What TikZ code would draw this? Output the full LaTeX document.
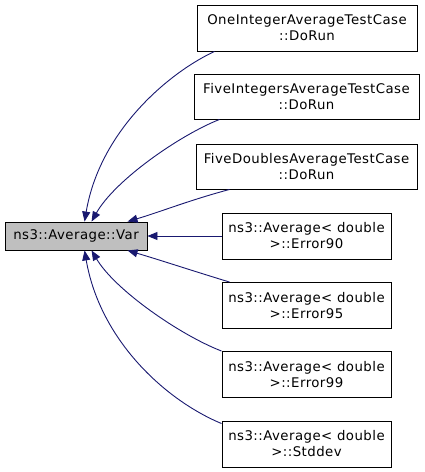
\documentclass[tikz,border=0pt]{standalone}
\usepackage{fontspec}
\setmainfont{DejaVu Sans}[LetterSpace=3.5]
\usetikzlibrary{arrows.meta}
\definecolor{edgeblue}{HTML}{191970}
\definecolor{boxgray}{HTML}{BFBFBF}
\begin{document}
\begin{tikzpicture}[x=1pt,y=-1pt,
  box/.style={draw=black, line width=0.9pt, fill=white, align=center, inner sep=0pt,
    font=\fontsize{13.3}{16}\selectfont},
  edge/.style={draw=edgeblue, line width=0.9pt, -{Triangle[length=10pt,width=8pt]}}]
\useasboundingbox (0,0) rectangle (424,472);
\node[box, fill=boxgray, minimum width=142pt, minimum height=28pt] (v) at (76,236) {ns3::Average::Var};
\node[box, minimum width=220pt, minimum height=46pt] (b1) at (307,28) {OneIntegerAverageTestCase\\::DoRun};
\node[box, minimum width=225pt, minimum height=45pt] (b2) at (306.5,96.5) {FiveIntegersAverageTestCase\\::DoRun};
\node[box, minimum width=221pt, minimum height=45pt] (b3) at (306.5,166.5) {FiveDoublesAverageTestCase\\::DoRun};
\node[box, minimum width=169pt, minimum height=46pt] (b4) at (306.5,236) {ns3::Average< double\\>::Error90};
\node[box, minimum width=169pt, minimum height=46pt] (b5) at (306.5,305.5) {ns3::Average< double\\>::Error95};
\node[box, minimum width=169pt, minimum height=46pt] (b6) at (306.5,374.5) {ns3::Average< double\\>::Error99};
\node[box, minimum width=169pt, minimum height=46pt] (b7) at (306.5,444) {ns3::Average< double\\>::Stddev};
\draw[edge] ([xshift=18pt]b1.south west) .. controls (170,72) and (100,130) .. ([xshift=80pt]v.north west);
\draw[edge] ([xshift=26pt]b2.south west) .. controls (180,135) and (115,180) .. ([xshift=87pt]v.north west);
\draw[edge] ([xshift=34pt]b3.south west) .. controls (190,200) and (160,212) .. ([xshift=123pt]v.north west);
\draw[edge] (b4.west) -- (v.east);
\draw[edge] ([xshift=8pt]b5.north west) .. controls (190,270) and (160,260) .. ([xshift=123pt]v.south west);
\draw[edge] (b6.north west) .. controls (180,335) and (115,290) .. ([xshift=87pt]v.south west);
\draw[edge] ([yshift=-3pt]b7.north west) .. controls (165,400) and (100,340) .. ([xshift=80pt]v.south west);
\end{tikzpicture}
\end{document}
